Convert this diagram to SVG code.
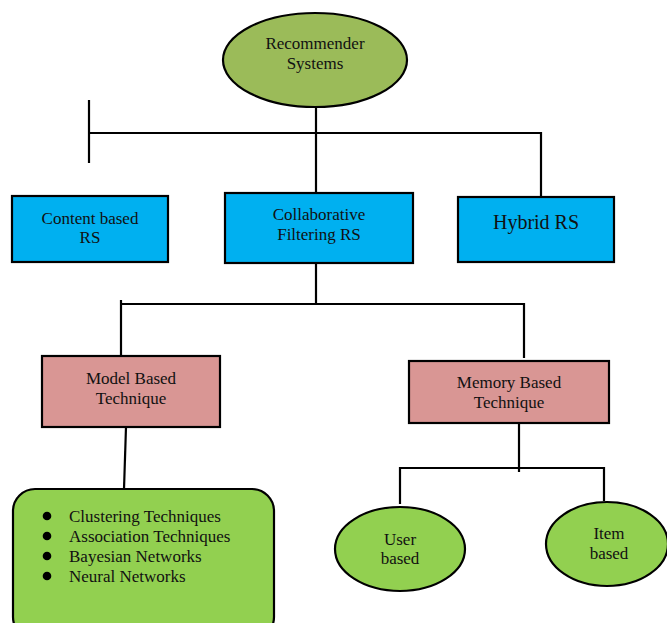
<svg xmlns="http://www.w3.org/2000/svg" width="667" height="623" viewBox="0 0 667 623">
<style>
text{font-family:"Liberation Serif","Times New Roman",serif;font-size:17px;fill:#111;text-anchor:middle}
.sh{stroke:#000;stroke-width:2.2}
.ln{stroke:#000;stroke-width:2.2;fill:none}
.blue{fill:#00B0F0}
.pink{fill:#D99694}
.olive{fill:#9BBB59}
.lg{fill:#92D050}
.li{text-anchor:start}
</style>
<rect width="667" height="623" fill="#fff"/>
<g id="connectors">
<path class="ln" d="M316 107V198"/>
<path class="ln" d="M89 133H541V200"/>
<path class="ln" d="M89 100V163"/>
<path class="ln" d="M316 263V304"/>
<path class="ln" d="M121 300V356M121 304H524V358"/>
<path class="ln" d="M126 427L124 489"/>
<path class="ln" d="M519 423V472"/>
<path class="ln" d="M400 504V468H604V501"/>
</g>
<g id="recommender">
<ellipse class="sh olive" cx="315" cy="60" rx="92" ry="47"/>
<text x="315" y="49">Recommender</text>
<text x="315" y="69">Systems</text>
</g>
<g id="content">
<rect class="sh blue" x="12" y="196" width="156" height="66"/>
<text x="90" y="224">Content based</text>
<text x="90" y="243">RS</text>
</g>
<g id="collaborative">
<rect class="sh blue" x="225" y="193" width="188" height="70"/>
<text x="319" y="220">Collaborative</text>
<text x="319" y="240">Filtering RS</text>
</g>
<g id="hybrid">
<rect class="sh blue" x="458" y="197" width="156" height="65"/>
<text x="536" y="229" style="font-size:20px">Hybrid RS</text>
</g>
<g id="model">
<rect class="sh pink" x="42" y="356" width="178" height="71"/>
<text x="131" y="384">Model Based</text>
<text x="131" y="404">Technique</text>
</g>
<g id="memory">
<rect class="sh pink" x="409" y="361" width="200" height="62"/>
<text x="509" y="388">Memory Based</text>
<text x="509" y="408">Technique</text>
</g>
<g id="techniques">
<rect class="sh lg" x="13" y="489" width="261" height="150" rx="22"/>
<circle cx="47" cy="516" r="4.3" fill="#000"/>
<circle cx="47" cy="536" r="4.3" fill="#000"/>
<circle cx="47" cy="556" r="4.3" fill="#000"/>
<circle cx="47" cy="576" r="4.3" fill="#000"/>
<text class="li" x="69" y="522">Clustering Techniques</text>
<text class="li" x="69" y="542">Association Techniques</text>
<text class="li" x="69" y="562">Bayesian Networks</text>
<text class="li" x="69" y="582">Neural Networks</text>
</g>
<g id="user">
<ellipse class="sh lg" cx="400" cy="549" rx="65" ry="42"/>
<text x="400" y="545">User</text>
<text x="400" y="564">based</text>
</g>
<g id="item">
<ellipse class="sh lg" cx="607" cy="544" rx="61" ry="42"/>
<text x="609" y="539">Item</text>
<text x="609" y="559">based</text>
</g>
</svg>
